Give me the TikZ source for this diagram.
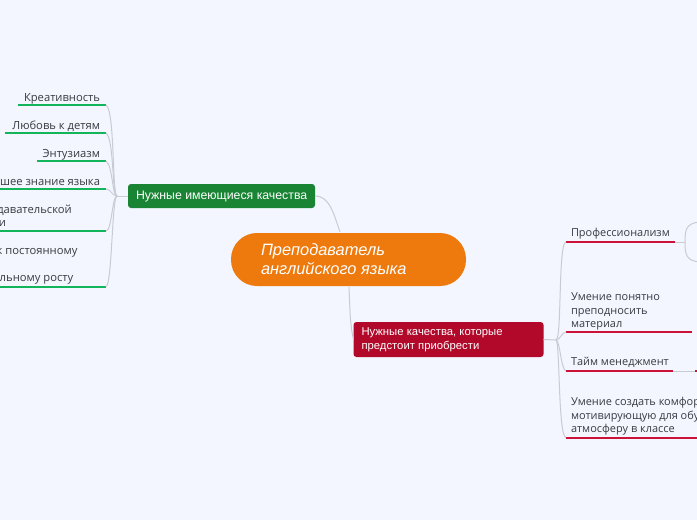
\documentclass[tikz,border=0pt]{standalone}
\usepackage{fontspec}
\setmainfont{Open Sans}
\newfontfamily\topicfont{Liberation Sans}
\definecolor{bgc}{HTML}{F3F6FF}
\definecolor{orangec}{HTML}{EE7A0E}
\definecolor{greenc}{HTML}{1A8435}
\definecolor{redc}{HTML}{B2092B}
\definecolor{glinec}{HTML}{12B55A}
\definecolor{rlinec}{HTML}{CC1238}
\definecolor{linkc}{HTML}{C9CBD2}
\definecolor{txtc}{HTML}{3A3A40}
\tikzset{
 x=1pt,y=-1pt,
 link/.style={draw=linkc,line width=1pt},
 gul/.style={draw=glinec,line width=2pt},
 rul/.style={draw=rlinec,line width=2pt},
 leaf/.style={inner sep=0pt,outer sep=0pt,text=txtc,font=\fontsize{11.2}{13.2}\selectfont,align=left},
 rightleaf/.style={leaf,font=\fontsize{10.95}{13.2}\selectfont},
 topicbox/.style={rounded corners=3pt,inner sep=0pt,outer sep=0pt},
 topictext/.style={text=white,inner sep=0pt,outer sep=0pt,anchor=west,align=left},
}
\begin{document}
\begin{tikzpicture}
\useasboundingbox (0,0) rectangle (697,520);
\clip (0,0) rectangle (697,520);
\fill[bgc] (0,0) rectangle (697,520);
% central and main topics
\node[fill=orangec,rounded corners=26pt,minimum width=235pt,minimum height=53pt,inner sep=0pt,outer sep=0pt,anchor=north west] (root) at (231,233) {};
\node[topictext,font=\topicfont\itshape\fontsize{16.4}{19}\selectfont] (roottext) at (261,259.5) {Преподаватель\\английского языка};
\node[topicbox,fill=greenc,minimum width=187pt,minimum height=24pt,anchor=north west] (g) at (128,184) {};
\node[topictext,font=\topicfont\fontsize{12.3}{14}\selectfont] (gt) at (136,196.7) {Нужные имеющиеся качества};
\node[topicbox,fill=redc,minimum width=190pt,minimum height=35pt,anchor=north west] (r) at (353.5,322) {};
\node[topictext,font=\topicfont\fontsize{11.3}{13.6}\selectfont] (rt) at (361.5,340) {Нужные качества, которые\\предстоит приобрести};
% hubs
\coordinate (gh) at (117,196);
\coordinate (rh) at (556,340);
% left leaves
\node[leaf,anchor=base east] (l1) at (100,101) {Креативность};
\node[leaf,anchor=base east] (l2) at (100,129) {Любовь к детям};
\node[leaf,anchor=base east] (l3) at (100,157) {Энтузиазм};
\node[leaf,anchor=base east] (l4) at (100,185) {Хорошее знание языка};
\node[leaf,anchor=south west] (l5) at (-69,229) {Опыт преподавательской\\деятельности};
\node[leaf,anchor=south west] (l6) at (-73,284) {Стремление к постоянному\\личному и\\профессиональному росту};
\coordinate (u1a) at (18,105); \coordinate (u1b) at (106,105);
\coordinate (u2a) at (5,133); \coordinate (u2b) at (106,133);
\coordinate (u3a) at (37,161); \coordinate (u3b) at (106,161);
\coordinate (u4a) at (0,189); \coordinate (u4b) at (106,189);
\coordinate (u5a) at (0,231); \coordinate (u5b) at (106,231);
\coordinate (u6a) at (0,286.5); \coordinate (u6b) at (106,286.5);
\draw[gul] (u1a)--(u1b); \draw[gul] (u2a)--(u2b); \draw[gul] (u3a)--(u3b);
\draw[gul] (u4a)--(u4b); \draw[gul] (u5a)--(u5b); \draw[gul] (u6a)--(u6b);
% right leaves
\node[rightleaf,anchor=south west] (p1) at (571,239.5) {Профессионализм};
\node[rightleaf,anchor=south west] (p2) at (571,330) {Умение понятно\\преподносить\\материал};
\node[rightleaf,anchor=south west] (p3) at (571,367.5) {Тайм менеджмент};
\node[rightleaf,anchor=south west] (p4) at (571,435) {Умение создать комфортную,\\мотивирующую для обучения\\атмосферу в классе};
\coordinate (v1a) at (566,242); \coordinate (v1b) at (675,242);
\coordinate (v2a) at (566,332); \coordinate (v2b) at (692,332);
\coordinate (v3a) at (566,371); \coordinate (v3b) at (673,371);
\coordinate (v4a) at (566,437.5); \coordinate (v4b) at (700,437.5);
\coordinate (v3c) at (695,371); \coordinate (v3d) at (700,371);
\draw[rul] (v1a)--(v1b); \draw[rul] (v2a)--(v2b); \draw[rul] (v3a)--(v3b); \draw[rul] (v4a)--(v4b);
\draw[rul] (v3c)--(v3d);
% connectors
\draw[link] (g.east) .. controls (330,196) and (334,215) .. (340,232);
\draw[link] (349,287) .. controls (350,310) and (350,325) .. (r.west);
\draw[link] (g.west) -- (gh);
\draw[link] (gh) .. controls (112,196) and (115,110) .. (u1b);
\draw[link] (gh) .. controls (112,196) and (114,138) .. (u2b);
\draw[link] (gh) .. controls (112,196) and (113,166) .. (u3b);
\draw[link] (gh) .. controls (112,196) and (111,189) .. (u4b);
\draw[link] (gh) .. controls (112,196) and (112,231) .. (u5b);
\draw[link] (gh) .. controls (112,196) and (112,286) .. (u6b);
\draw[link] (r.east) -- (rh);
\draw[link] (rh) .. controls (562,340) and (558,242) .. (v1a);
\draw[link] (rh) .. controls (560,340) and (562,332) .. (v2a);
\draw[link] (rh) .. controls (560,340) and (561,370) .. (v3a);
\draw[link] (rh) .. controls (560,340) and (558,437) .. (v4a);
\coordinate (b1) at (685,242);
\draw[link] (v1b)--(b1);
\draw[link] (b1) .. controls (685,230) and (686,223) .. (700,222);
\draw[link] (b1) .. controls (685,254) and (686,261) .. (700,262);
\draw[link] (v3b)--(v3c);
\end{tikzpicture}
\end{document}
